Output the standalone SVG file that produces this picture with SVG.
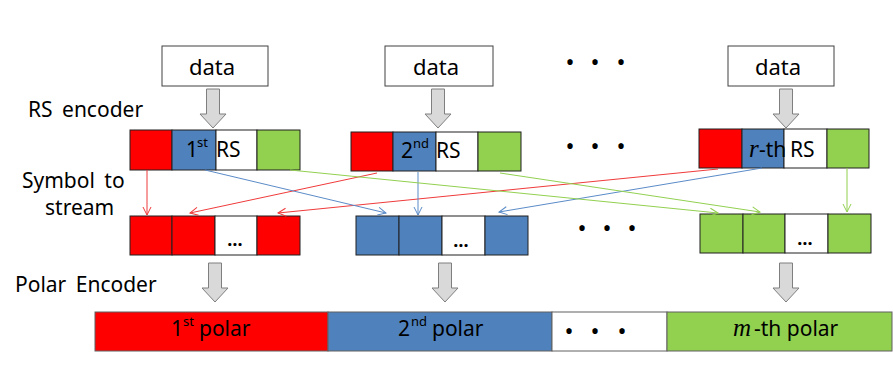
<svg xmlns="http://www.w3.org/2000/svg" width="893" height="382" viewBox="0 0 893 382">
<style>
.t{font-family:"Noto Sans","Liberation Sans",Arial,sans-serif;fill:#000}
.lbl{font-size:21px;word-spacing:4px}
.cell{font-size:21px}
.sup{font-size:13px}
.mi{font-family:"Liberation Serif","DejaVu Serif",serif;font-style:italic;font-size:25px}
.box{fill:#fff;stroke:#404040;stroke-width:1}
.blk{stroke:#202020;stroke-width:1}
.r{fill:#FF0000}.b{fill:#4F81BD}.g{fill:#92D050}.w{fill:#fff}
.pol{stroke:#606060;stroke-width:1}
.arr{fill:#D9D9D9;stroke:#7F7F7F;stroke-width:1}
.dots{font-family:"Noto Sans","Liberation Sans",sans-serif;font-size:24px;text-anchor:middle}
.ln{fill:none;stroke-width:1}
</style>
<defs>
<marker id="mr" markerUnits="userSpaceOnUse" markerWidth="12" markerHeight="12" refX="9" refY="5" orient="auto"><path d="M1,1 L9,5 L1,9" fill="none" stroke="#F03A3A" stroke-width="1"/></marker>
<marker id="mb" markerUnits="userSpaceOnUse" markerWidth="12" markerHeight="12" refX="9" refY="5" orient="auto"><path d="M1,1 L9,5 L1,9" fill="none" stroke="#5B8BC8" stroke-width="1"/></marker>
<marker id="mg" markerUnits="userSpaceOnUse" markerWidth="12" markerHeight="12" refX="9" refY="5" orient="auto"><path d="M1,1 L9,5 L1,9" fill="none" stroke="#92D050" stroke-width="1"/></marker>
</defs>
<rect width="893" height="382" fill="#fff"/>

<!-- labels -->
<g id="label-rs"><text class="t lbl" x="28" y="117">RS encoder</text></g>
<g id="label-sym"><text class="t lbl" x="22" y="188">Symbol to</text><text class="t lbl" x="45" y="215">stream</text></g>
<g id="label-polar"><text class="t lbl" x="15" y="292">Polar Encoder</text></g>

<!-- data boxes -->
<g id="data1"><rect class="box" x="162" y="46" width="106" height="40"/><text class="t" font-size="22" x="212" y="75" text-anchor="middle">data</text></g>
<g id="data2"><rect class="box" x="385" y="46" width="108" height="40"/><text class="t" font-size="22" x="436" y="75" text-anchor="middle">data</text></g>
<g id="data3"><rect class="box" x="728" y="46" width="106" height="40"/><text class="t" font-size="22" x="778" y="75" text-anchor="middle">data</text></g>

<g id="dots-top"><text class="dots" x="570 595 621" y="71">•••</text></g>
<g id="dots-rs"><text class="dots" x="570 595 621" y="155">•••</text></g>
<g id="dots-stream"><text class="dots" x="582 607 632" y="237">•••</text></g>

<!-- RS encoded blocks -->
<g id="rs1">
<rect class="blk r" x="130" y="130" width="42" height="40"/>
<rect class="blk b" x="172" y="130" width="44" height="40"/>
<rect class="blk w" x="216" y="130" width="41" height="40"/>
<rect class="blk g" x="257" y="130" width="43" height="40"/>
<text class="t cell"><tspan x="186" y="157">1</tspan><tspan class="sup" x="197" y="147">st</tspan><tspan x="216" y="157">RS</tspan></text>
</g>
<g id="rs2">
<rect class="blk r" x="351" y="132" width="42" height="39"/>
<rect class="blk b" x="393" y="132" width="43" height="39"/>
<rect class="blk w" x="436" y="132" width="42" height="39"/>
<rect class="blk g" x="478" y="132" width="43" height="39"/>
<text class="t cell"><tspan x="401" y="158">2</tspan><tspan class="sup" x="413" y="148">nd</tspan><tspan x="436" y="158">RS</tspan></text>
</g>
<g id="rs3">
<rect class="blk r" x="699" y="129" width="43" height="39"/>
<rect class="blk b" x="742" y="129" width="42" height="39"/>
<rect class="blk w" x="784" y="129" width="43" height="39"/>
<rect class="blk g" x="827" y="129" width="42" height="39"/>
<text class="t cell"><tspan class="mi" x="749" y="157">r</tspan><tspan x="759" y="157">-th</tspan><tspan x="790" y="157">RS</tspan></text>
</g>

<!-- top block arrows -->
<g id="arrow-top1"><polygon class="arr" points="206.5,89 219.5,89 219.5,114 226,114 213,128 200,114 206.5,114"/></g>
<g id="arrow-top2"><polygon class="arr" points="431.5,89 444.5,89 444.5,114 451,114 438,128 425,114 431.5,114"/></g>
<g id="arrow-top3"><polygon class="arr" points="779.5,89 792.5,89 792.5,114 799,114 786,128 773,114 779.5,114"/></g>

<!-- stream rows -->
<g id="stream-red">
<rect class="blk r" x="130" y="216" width="42" height="39"/>
<rect class="blk r" x="172" y="216" width="43" height="39"/>
<rect class="blk w" x="215" y="216" width="42" height="39"/>
<rect class="blk r" x="257" y="216" width="43" height="39"/>
<text class="t" font-size="18" font-weight="bold" x="235" y="246" text-anchor="middle">…</text>
</g>
<g id="stream-blue">
<rect class="blk b" x="356" y="216" width="43" height="39"/>
<rect class="blk b" x="399" y="216" width="43" height="39"/>
<rect class="blk w" x="442" y="216" width="43" height="39"/>
<rect class="blk b" x="485" y="216" width="43" height="39"/>
<text class="t" font-size="18" font-weight="bold" x="461" y="247" text-anchor="middle">…</text>
</g>
<g id="stream-green">
<rect class="blk g" x="700" y="214" width="43" height="39"/>
<rect class="blk g" x="743" y="214" width="42" height="39"/>
<rect class="blk w" x="785" y="214" width="43" height="39"/>
<rect class="blk g" x="828" y="214" width="43" height="39"/>
<text class="t" font-size="18" font-weight="bold" x="805" y="245" text-anchor="middle">…</text>
</g>

<!-- lower block arrows -->
<g id="arrow-bot1"><polygon class="arr" points="208.5,263 221.5,263 221.5,288 228,288 215,302 202,288 208.5,288"/></g>
<g id="arrow-bot2"><polygon class="arr" points="438.5,263 451.5,263 451.5,288 458,288 445,302 432,288 438.5,288"/></g>
<g id="arrow-bot3"><polygon class="arr" points="779.5,263 792.5,263 792.5,288 799,288 786,302 773,288 779.5,288"/></g>

<!-- polar bar -->
<g id="polar1"><rect class="pol r" x="95" y="312" width="233" height="39"/>
<text class="t cell"><tspan x="171" y="336">1</tspan><tspan class="sup" x="183" y="326">st</tspan><tspan x="199" y="336">polar</tspan></text></g>
<g id="polar2"><rect class="pol b" x="328" y="312" width="224" height="39"/>
<text class="t cell"><tspan x="398" y="336">2</tspan><tspan class="sup" x="411" y="326">nd</tspan><tspan x="432" y="336">polar</tspan></text></g>
<g id="polar-dots"><rect class="pol w" x="552" y="312" width="115" height="39"/><text class="dots" x="569 595 622" y="340">•••</text></g>
<g id="polar-m"><rect class="pol g" x="667" y="312" width="225" height="39"/>
<text class="t cell"><tspan class="mi" x="733" y="336">m</tspan><tspan x="754" y="336">-th polar</tspan></text></g>

<!-- connectors -->
<g id="connectors">
<line class="ln" stroke="#F03A3A" marker-end="url(#mr)" x1="147" y1="170" x2="147" y2="215"/>
<line class="ln" stroke="#F03A3A" marker-end="url(#mr)" x1="377" y1="173" x2="190" y2="213"/>
<line class="ln" stroke="#F03A3A" marker-end="url(#mr)" x1="718" y1="169" x2="278" y2="213"/>
<line class="ln" stroke="#5B8BC8" marker-end="url(#mb)" x1="205" y1="170" x2="386" y2="213"/>
<line class="ln" stroke="#5B8BC8" marker-end="url(#mb)" x1="418" y1="172" x2="418" y2="215"/>
<line class="ln" stroke="#5B8BC8" marker-end="url(#mb)" x1="762" y1="168" x2="499" y2="212"/>
<line class="ln" stroke="#92D050" marker-end="url(#mg)" x1="290" y1="170" x2="718" y2="213"/>
<line class="ln" stroke="#92D050" marker-end="url(#mg)" x1="500" y1="173" x2="760" y2="212"/>
<line class="ln" stroke="#92D050" marker-end="url(#mg)" x1="847" y1="168" x2="847" y2="212"/>
</g>
</svg>
